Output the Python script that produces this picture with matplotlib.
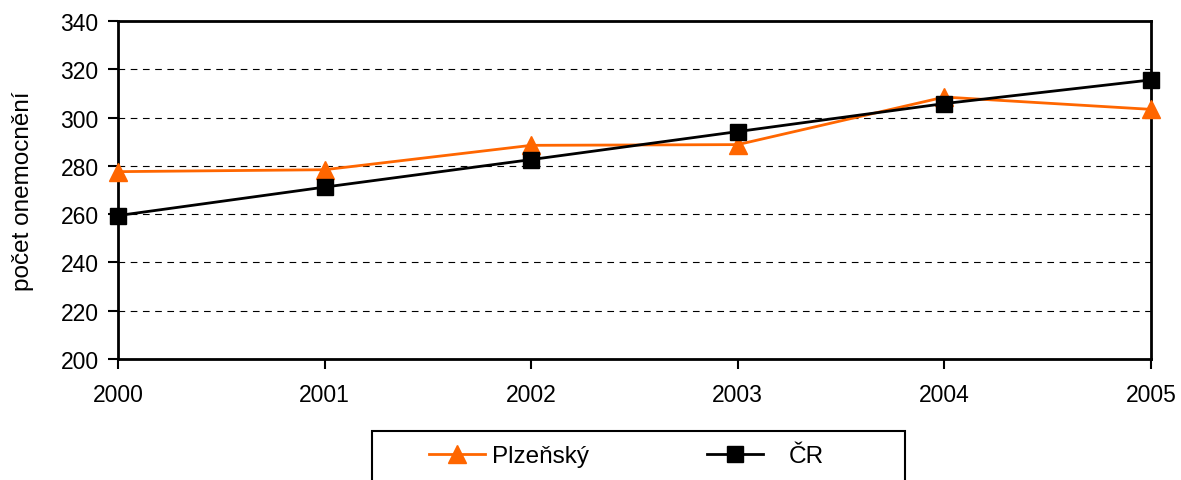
import numpy as np
from matplotlib import pyplot as plt
from matplotlib.patches import Rectangle

## Data
#
years = [2000, 2001, 2002, 2003, 2004, 2005]
plzensky = [277.6, 278.4, 288.5, 288.8, 308.5, 303.4]
cr = [259.4, 271.2, 282.6, 294.2, 305.8, 315.6]

plt.rcParams['font.family'] = ['Liberation Sans', 'DejaVu Sans']

fig = plt.figure(figsize=(11.81, 4.81), dpi=100)
ax = fig.add_axes([118/1181, 1 - 360/481, (1151 - 118)/1181, (360 - 22)/481])

l1, = ax.plot(years, plzensky, '-', color='#ff6600', lw=2, marker='^', ms=13,
              label='Plzeňský', clip_on=False, zorder=3)
l2, = ax.plot(years, cr, '-', color='black', lw=2, marker='s', ms=11,
              label='ČR', clip_on=False, zorder=4)

ax.set_xlim(2000, 2005)
ax.set_ylim(200, 340)
ax.set_xticks(years)
ax.set_yticks(np.arange(200, 341, 20))
ax.tick_params(direction='out', length=7, width=1.5, labelsize=16.5, pad=7)
ax.tick_params(axis='x', pad=10)
ax.set_ylabel('počet onemocnění', fontsize=17.5, labelpad=19)

for s in ax.spines.values():
    s.set_linewidth(2)
    s.set_color('black')

ax.yaxis.grid(True, linestyle=(0, (6, 5)), color='black', lw=0.8)
ax.set_axisbelow(True)

## Legend: box runs off the bottom edge, like the reference
#
fig.patches.append(Rectangle((372/1181, -0.1), (905 - 372)/1181, 1 - 432/481 + 0.1,
                             transform=fig.transFigure, fill=False,
                             edgecolor='black', lw=1.5))
for line, x0, pad in [(l1, 429, 0.3), (l2, 707, 1.05)]:
    fig.legend(handles=[line], loc='center left', bbox_to_anchor=(x0/1181, 1 - 457/481),
               fontsize=17.5, frameon=False, borderpad=0, borderaxespad=0,
               handlelength=2.3, handletextpad=pad)

plt.savefig('out.png', dpi=100)
